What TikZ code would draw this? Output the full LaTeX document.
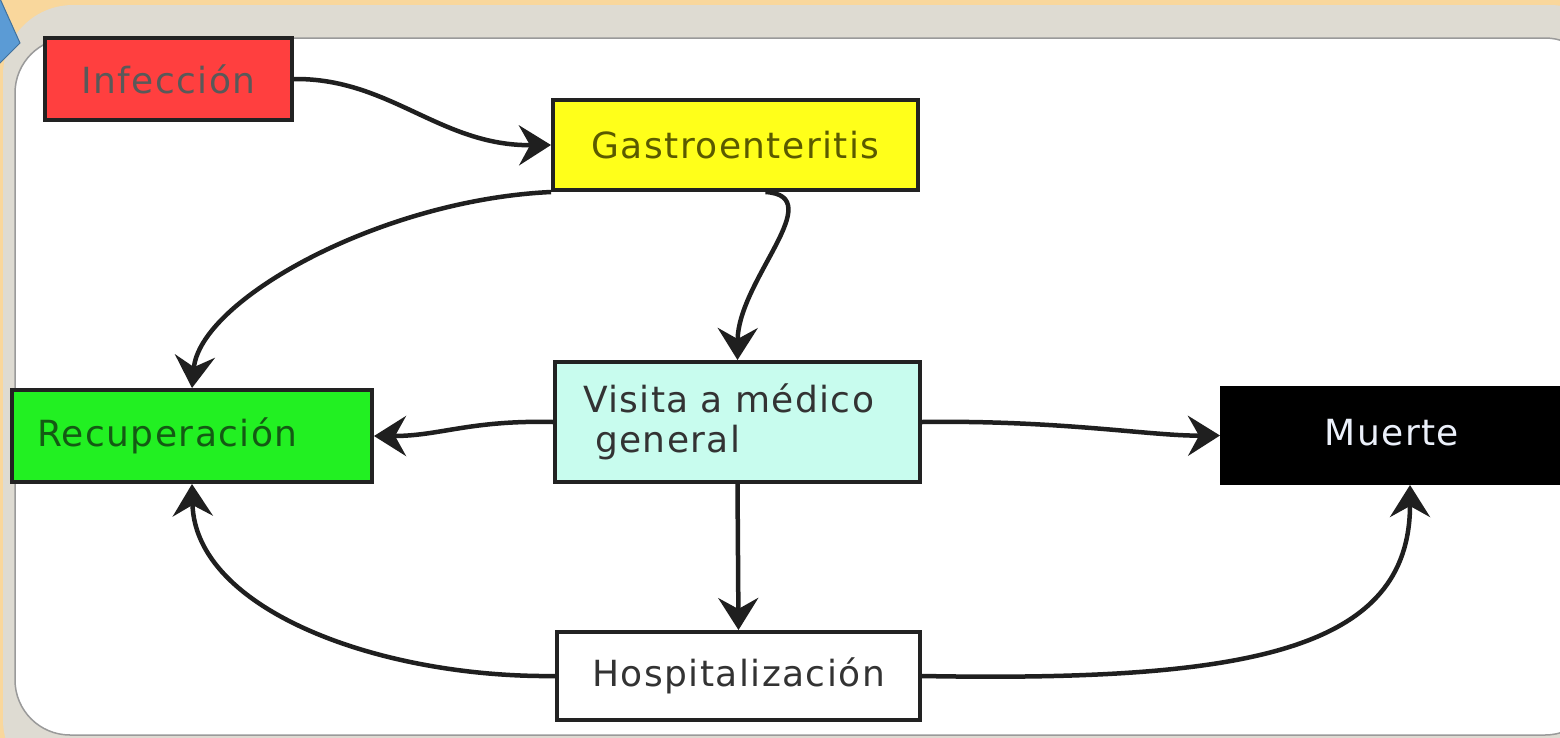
\documentclass[tikz,border=0pt]{standalone}
\usepackage{fontspec}
\usetikzlibrary{arrows.meta}
\newfontfamily\dv[LetterSpace=4]{DejaVu Sans}
\definecolor{bgorange}{HTML}{F9D79C}
\definecolor{framegray}{HTML}{DEDBD2}
\definecolor{paneledge}{HTML}{9A9A9A}
\definecolor{blueTri}{HTML}{5B9BD5}
\definecolor{blueTriEdge}{HTML}{41719C}
\definecolor{redfill}{HTML}{FF3F3F}
\definecolor{yellowfill}{HTML}{FFFF1A}
\definecolor{greenfill}{HTML}{22F022}
\definecolor{cyanfill}{HTML}{C8FCEE}
\definecolor{boxedge}{HTML}{222222}
\tikzset{
  box/.style={draw=boxedge, line width=4pt, inner sep=0pt, font=\dv\fontsize{36}{40}\selectfont},
  flow/.style={draw=black!88, line width=4.5pt, -{Stealth[length=32pt, width=40pt, inset=11pt]}},
}
\begin{document}
\begin{tikzpicture}[x=1pt, y=-1pt]
\useasboundingbox (0,0) rectangle (1560,737);
% background
\fill[bgorange] (-10,-10) rectangle (1570,747);
\fill[framegray, rounded corners=70pt] (3,5) rectangle (1620,790);
\filldraw[fill=white, draw=paneledge, line width=1.5pt, rounded corners=55pt] (15,38) rectangle (1600,735);
\filldraw[fill=blueTri, draw=blueTriEdge, line width=1pt] (-3,-8) -- (20,43) -- (-3,66) -- cycle;

% nodes
\node[box, fill=redfill, minimum width=247pt, minimum height=82pt, text=black!65] (inf) at (168.5,79) {Infección};
\node[box, fill=yellowfill, minimum width=365pt, minimum height=90pt, text={rgb,255:red,90;green,90;blue,0}] (gas) at (735.5,145) {Gastroenteritis};
\node[box, fill=greenfill, minimum height=92pt, text width=310pt, inner xsep=25pt, align=left, text={rgb,255:red,20;green,90;blue,20}] (rec) at (192,436) {Recuperación};
\node[box, fill=cyanfill, minimum height=120pt, text width=309pt, inner xsep=28pt, align=left, text=black!80] (vis) at (737.5,422) {Visita a médico\\\hspace{12pt}general};
\node[box, fill=black, minimum width=340pt, minimum height=95pt, text={rgb,255:red,235;green,240;blue,250}, draw=black] (mue) at (1392,435.5) {\raisebox{6pt}{Muerte}};
\node[box, fill=white, minimum width=363pt, minimum height=88pt, text=black!80] (hos) at (738.5,676) {Hospitalización};

% connectors
\draw[flow] (inf.east) .. controls (390,78) and (440,146) .. (gas.west);
\draw[flow] (gas.south west) .. controls (380,200) and (200,300) .. (rec.north);
\draw[flow] ([xshift=30pt]gas.south) .. controls (830,196) and (738,280) .. (vis.north);
\draw[flow] (vis.west) .. controls (470,420) and (440,436) .. (rec.east);
\draw[flow] (vis.east) .. controls (1060,420) and (1150,436) .. (mue.west);
\draw[flow] (vis.south) -- (hos.north);
\draw[flow] (hos.west) .. controls (380,678) and (195,610) .. (rec.south);
\draw[flow] (hos.east) .. controls (1250,682) and (1410,650) .. ([xshift=18pt]mue.south);
\end{tikzpicture}
\end{document}
